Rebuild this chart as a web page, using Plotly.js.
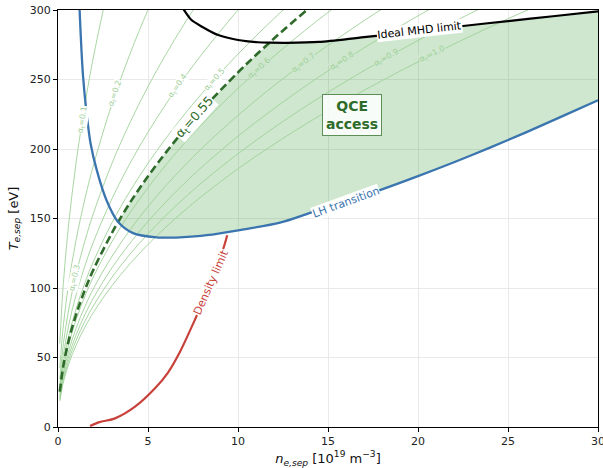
<!DOCTYPE html>
<html><head><meta charset="utf-8">
<script src="https://cdn.plot.ly/plotly-3.0.1.min.js"></script>
<style>html,body{margin:0;padding:0;background:#fff;} #chart{width:603px;height:468px;}</style>
</head><body><div id="chart"></div>
<script>
// ---- data ----
const nGrid = [0.1,0.3,0.6,1,1.5,2,3,4,5,6,7,8,10,12,14,16,18,20,22,24,26,28,30];
const alphaLevels = [0.1,0.2,0.3,0.4,0.5,0.6,0.7,0.8,0.9,1.0];
const tA01 = [60.0,103.9,146.9,189.7,232.3,268.3,328.6];
const tA02 = [42.4,73.5,104.0,134.2,164.4,189.8,232.4,268.4,300.1,328.7];
const tA03 = [34.6,60.0,84.8,109.5,134.1,154.9,189.7,219.0,244.9,268.2,289.7,309.7];
const tA04 = [30.0,52.0,73.5,94.9,116.2,134.2,164.3,189.7,212.1,232.4,251.0,268.3,300.0,328.6];
const tA05 = [26.8,46.5,65.7,84.9,103.9,120.0,147.0,169.7,189.7,207.8,224.5,240.0,268.3,293.9,317.5];
const tA06 = [24.4,42.2,59.7,77.0,94.3,108.9,133.4,154.1,172.2,188.7,203.8,217.9,243.6,266.8,288.2,308.1];
const tA07 = [22.4,38.8,54.9,70.9,86.8,100.3,122.8,141.8,158.6,173.7,187.6,200.6,224.2,245.6,265.3,283.6,300.8,317.1];
const tA08 = [20.9,36.2,51.2,66.1,81.0,93.5,114.6,132.3,147.9,162.0,175.0,187.1,209.2,229.1,247.5,264.6,280.6,295.8,310.2];
const tA09 = [19.7,34.1,48.2,62.2,76.2,87.9,107.7,124.4,139.0,152.3,164.5,175.9,196.6,215.4,232.7,248.7,263.8,278.1,291.6,304.6];
const tA10 = [18.6,32.2,45.5,58.7,71.9,83.1,101.7,117.5,131.3,143.9,155.4,166.1,185.8,203.5,219.8,235.0,249.2,262.7,275.5,287.8,299.5,310.8];

// critical alpha_t = 0.55 (dashed)
const critN = [0.1,0.3,0.6,1,1.5,2,3,3.3,4,5,6,7,8,10,11,11.8,12,14,16];
const critT = [25.5,44.2,62.5,80.7,98.8,114.1,139.7,146.6,161.4,180.4,197.6,213.5,228.2,255.1,267.6,277.1,279.5,301.9,322.7];

// LH transition
const lhN = [1.15,1.2,1.3,1.39,1.57,1.81,2.15,2.7,3.33,4.17,5.48,6.3,6.78,8.26,10.1,12.33,14,16,18,20,22,24,26,28,30];
const lhT = [320,300,272,252.6,228,204,185,163,147.7,139.5,136.4,136.2,136.4,138,141.7,147,154,162.5,171,180.5,190.5,201,212,223.5,235];

// Ideal MHD limit
const mhdN = [6.9,7.0,7.4,8.0,8.9,10,11.1,11.8,12.7,14.5,17,20,22.5,25,27.5,30];
const mhdT = [302,300,293,288,282,278.4,276.8,276.5,276.4,277,280.5,284.5,288.5,292,295.5,299];

// Density limit
const densN = [1.78,2.3,3.17,4.28,5.39,6.1,6.78,7.6,8.2,8.7,9.19,9.4];
const densT = [0.7,3.5,6.2,14.6,27.8,39,54.2,77,95,112,128.6,138];

const alphaT = [tA01,tA02,tA03,tA04,tA05,tA06,tA07,tA08,tA09,tA10];

// ---- styles ----
const FONT = 'DejaVu Sans, Liberation Sans, sans-serif';
const lightGreen = '#9fd199';
const darkGreen = '#2e6b2a';
const fillCol = 'rgba(60,160,60,0.25)';
const fillSolid = 'rgb(206,231,206)';

// ---- fill region (QCE access) ----
const fx = [], fy = [];
const nLo = 3.33, nHi = 11.8;
lhN.forEach((n,i)=>{ if (n >= nLo) { fx.push(n); fy.push(lhT[i]); } });
for (let i = mhdN.length-1; i >= 0; i--) { if (mhdN[i] >= nHi) { fx.push(mhdN[i]); fy.push(mhdT[i]); } }
for (let i = critN.length-1; i >= 0; i--) { if (critN[i] > nLo && critN[i] < nHi) { fx.push(critN[i]); fy.push(critT[i]); } }

const traces = [];
traces.push({x: fx, y: fy, mode: 'lines', fill: 'toself', fillcolor: fillCol,
  line: {width: 0}, hoverinfo: 'skip', showlegend: false});

alphaT.forEach((t)=>{
  traces.push({x: nGrid.slice(0, t.length), y: t, mode: 'lines',
    line: {color: lightGreen, width: 0.9, shape: 'spline', smoothing: 1}, hoverinfo: 'skip', showlegend: false});
});

traces.push({x: critN, y: critT, mode: 'lines',
  line: {color: darkGreen, width: 2.6, dash: '8px,4px', shape: 'spline', smoothing: 1}, hoverinfo: 'skip', showlegend: false});
traces.push({x: lhN, y: lhT, mode: 'lines',
  line: {color: '#3b75af', width: 2.3, shape: 'spline', smoothing: 0.8}, hoverinfo: 'skip', showlegend: false});
traces.push({x: mhdN, y: mhdT, mode: 'lines',
  line: {color: '#000000', width: 2.2, shape: 'spline', smoothing: 0.8}, hoverinfo: 'skip', showlegend: false});
traces.push({x: densN, y: densT, mode: 'lines',
  line: {color: '#c8413a', width: 2.2, shape: 'spline', smoothing: 0.8}, hoverinfo: 'skip', showlegend: false});

// ---- labels ----
const alphaLabelPos = [
  [1.357,221,-81,'#fff'],[3.2,240,-71,'#fff'],[0.954,107,-77,'#fff'],[6.67,245,-55,'#fff'],[8.68,250,-48,'#fff'],
  [11.22,258,-41.6,fillSolid],[13.65,262,-36.5,fillSolid],[15.81,263,-32.7,fillSolid],[18.23,265.5,-29.3,fillSolid],[20.82,268,-26.4,fillSolid]
];
const annotations = alphaLevels.map((a,i)=>({
  x: alphaLabelPos[i][0], y: alphaLabelPos[i][1], xref:'x', yref:'y', showarrow:false,
  text: 'α<sub>t</sub>=' + a.toFixed(1), textangle: alphaLabelPos[i][2],
  font: {family: FONT, size: 8, color: lightGreen}, bgcolor: alphaLabelPos[i][3], borderpad: 0
}));
annotations.push({x: 7.61, y: 222.6, xref:'x', yref:'y', showarrow:false, text:'α<sub>t</sub>=0.55',
  textangle: -48.5, font:{family: FONT, size: 12.5, color: darkGreen}, bgcolor:'#fff', borderpad: 0});
annotations.push({x: 15.99, y: 161.5, xref:'x', yref:'y', showarrow:false, text:'LH transition',
  textangle: -20, font:{family: FONT, size: 11, color: '#3b75af'}, bgcolor:'#fff', borderpad: 0});
annotations.push({x: 20.06, y: 285.6, xref:'x', yref:'y', showarrow:false, text:'Ideal MHD limit',
  textangle: -6.5, font:{family: FONT, size: 11, color: '#000'}, bgcolor:'#fff', borderpad: 0});
annotations.push({x: 8.5, y: 104, xref:'x', yref:'y', showarrow:false, text:'Density limit',
  textangle: -66, font:{family: FONT, size: 11, color: '#c8413a'}, bgcolor:'#fff', borderpad: 0});
annotations.push({x: 16.33, y: 224.5, xref:'x', yref:'y', showarrow:false, text:'<b>QCE<br>access</b>',
  font:{family: FONT, size: 14, color: darkGreen}, bgcolor:'rgba(255,255,255,0.85)',
  bordercolor:'#5c8f55', borderwidth: 1, borderpad: 3});

const axisCommon = {showline: true, mirror: true, linecolor: '#000', linewidth: 1,
  ticks: 'outside', ticklen: 4, tickcolor: '#000', tickwidth: 1,
  showgrid: true, gridcolor: '#e4e4e4', gridwidth: 0.8, zeroline: false,
  ticklabeloverflow: 'allow',
  tickfont: {family: FONT, size: 11, color: '#222'}};

const layout = {
  width: 603, height: 468,
  margin: {l: 58, r: 5, t: 10, b: 41},
  paper_bgcolor: '#fff', plot_bgcolor: '#fff',
  font: {family: FONT},
  xaxis: Object.assign({}, axisCommon, {range: [0,30], dtick: 5, tick0: 0,
    title: {text: '<i>n</i><sub><i>e,sep</i></sub> [10<sup>19</sup> m<sup>−3</sup>]', font: {family: FONT, size: 13, color: '#111'}, standoff: 6}}),
  yaxis: Object.assign({}, axisCommon, {range: [0,300], dtick: 50, tick0: 0,
    title: {text: '<i>T</i><sub><i>e,sep</i></sub> [eV]', font: {family: FONT, size: 13, color: '#111'}, standoff: 8}}),
  annotations: annotations,
  showlegend: false
};

Plotly.newPlot('chart', traces, layout, {staticPlot: true, displayModeBar: false});
</script>
</body></html>
